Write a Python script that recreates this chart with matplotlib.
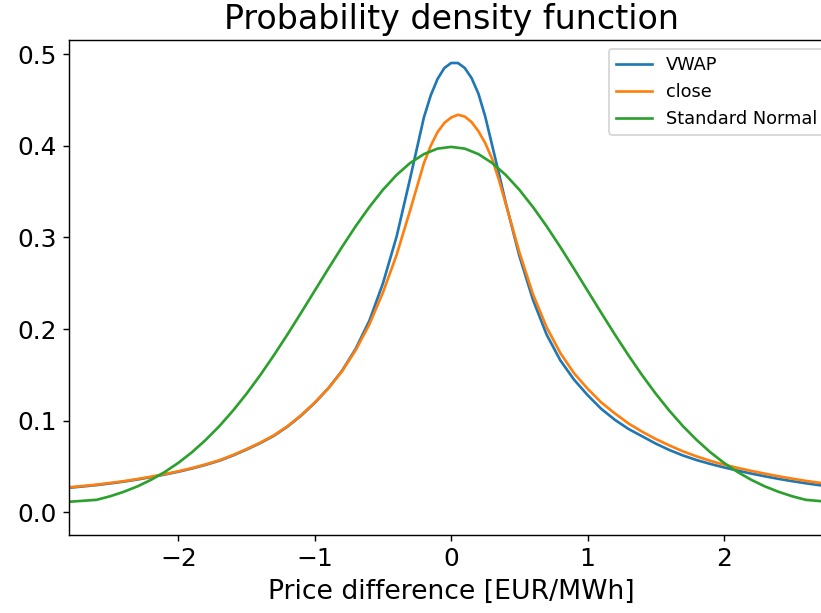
import matplotlib
matplotlib.use("Agg")
import matplotlib.pyplot as plt

# price difference grid (EUR/MWh) and densities
x_kde = [-2.8, -2.7, -2.6, -2.5, -2.4, -2.3, -2.2, -2.1, -2.0, -1.9, -1.8, -1.7,
         -1.6, -1.5, -1.4, -1.3, -1.2, -1.1, -1.0, -0.9, -0.8, -0.7, -0.6, -0.5,
         -0.4, -0.3, -0.2, -0.15, -0.1, -0.05, 0.0, 0.05, 0.1, 0.15, 0.2, 0.25,
         0.3, 0.35, 0.4, 0.5, 0.6, 0.7, 0.8, 0.9, 1.0, 1.1, 1.2, 1.3, 1.4, 1.5,
         1.6, 1.7, 1.8, 1.9, 2.0, 2.1, 2.2, 2.3, 2.4, 2.5, 2.6, 2.7, 2.8]
vwap = [0.0268, 0.0282, 0.0297, 0.0315, 0.0335, 0.0358, 0.0384, 0.0412, 0.0443, 0.0478,
        0.0518, 0.0563, 0.062, 0.0685, 0.0755, 0.0835, 0.0935, 0.1055, 0.1195, 0.1355,
        0.1545, 0.1785, 0.209, 0.250, 0.301, 0.365, 0.431, 0.455, 0.473, 0.485, 0.4905,
        0.4905, 0.485, 0.474, 0.457, 0.432, 0.401, 0.370, 0.338, 0.280, 0.232, 0.194,
        0.166, 0.145, 0.128, 0.113, 0.101, 0.091, 0.083, 0.075, 0.068, 0.062, 0.057,
        0.0528, 0.049, 0.0455, 0.0423, 0.0393, 0.0365, 0.034, 0.0317, 0.0296, 0.0277]
close = [0.0273, 0.0287, 0.0302, 0.032, 0.034, 0.0363, 0.0389, 0.0417, 0.0448, 0.0483,
         0.0523, 0.0568, 0.0625, 0.069, 0.076, 0.084, 0.094, 0.106, 0.1198, 0.1355,
         0.154, 0.177, 0.205, 0.240, 0.281, 0.330, 0.381, 0.400, 0.415, 0.425, 0.431,
         0.434, 0.432, 0.426, 0.416, 0.403, 0.386, 0.363, 0.337, 0.284, 0.238, 0.202,
         0.174, 0.152, 0.135, 0.120, 0.108, 0.097, 0.088, 0.080, 0.073, 0.0665, 0.061,
         0.0562, 0.052, 0.0485, 0.0452, 0.0422, 0.0393, 0.0367, 0.0343, 0.0322, 0.0303]

x_norm = [-2.8, -2.6, -2.5, -2.4, -2.3, -2.2, -2.1, -2.0, -1.9, -1.8, -1.7, -1.6,
          -1.5, -1.4, -1.3, -1.2, -1.1, -1.0, -0.9, -0.8, -0.7, -0.6, -0.5, -0.4,
          -0.3, -0.2, -0.1, 0.0, 0.1, 0.2, 0.3, 0.4, 0.5, 0.6, 0.7, 0.8, 0.9, 1.0,
          1.1, 1.2, 1.3, 1.4, 1.5, 1.6, 1.7, 1.8, 1.9, 2.0, 2.1, 2.2, 2.3, 2.4,
          2.5, 2.6, 2.8]
std_normal = [0.0115, 0.0136, 0.0175, 0.0224, 0.0283, 0.0355, 0.044, 0.054, 0.0656,
              0.079, 0.094, 0.1109, 0.1295, 0.1497, 0.1714, 0.1942, 0.2179, 0.242,
              0.2661, 0.2897, 0.3123, 0.3332, 0.3521, 0.3683, 0.3814, 0.391, 0.397,
              0.3989, 0.397, 0.391, 0.3814, 0.3683, 0.3521, 0.3332, 0.3123, 0.2897,
              0.2661, 0.242, 0.2179, 0.1942, 0.1714, 0.1497, 0.1295, 0.1109, 0.094,
              0.079, 0.0656, 0.054, 0.044, 0.0355, 0.0283, 0.0224, 0.0175, 0.0136,
              0.011]

fig = plt.figure(figsize=(821 / 128, 613 / 128), dpi=128)
ax = fig.add_axes([69.3 / 821, 78 / 613, (833 - 69.3) / 821, (535 - 40) / 613])

ax.plot(x_kde, vwap, label='VWAP')
ax.plot(x_kde, close, label='close')
ax.plot(x_norm, std_normal, label='Standard Normal')

ax.set_xlim(-2.8, 2.8)
ax.set_ylim(-0.0248, 0.5156)
ax.set_title('Probability density function', fontsize=18.7)
ax.set_xlabel('Price difference [EUR/MWh]', fontsize=15)
ax.tick_params(labelsize=14)
ax.legend(loc='upper right')

fig.savefig('out.png', dpi=128)
